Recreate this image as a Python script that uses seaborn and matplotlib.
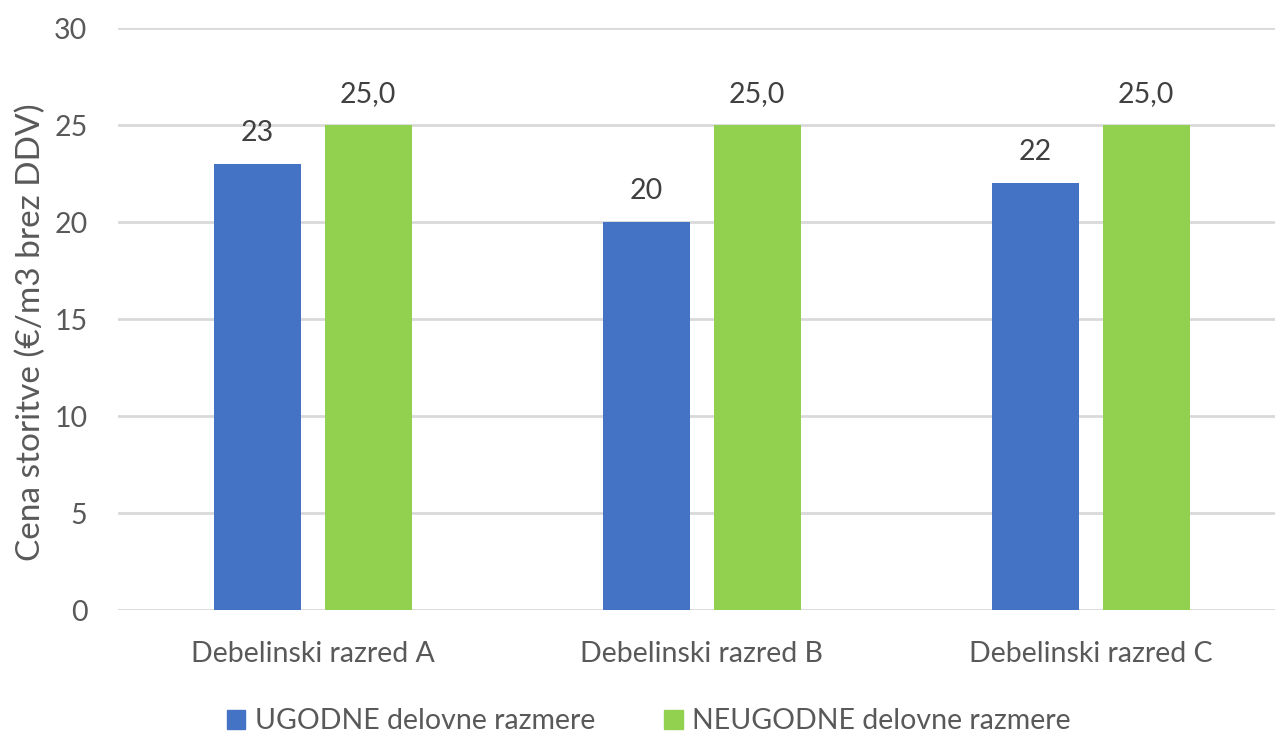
import pandas as pd
import seaborn as sns
import matplotlib.pyplot as plt
from matplotlib.patches import Patch

# data
razredi = ['Debelinski razred A', 'Debelinski razred B', 'Debelinski razred C']
ugodne = [23, 20, 22]
neugodne = [25.0, 25.0, 25.0]
serije = ['UGODNE delovne razmere', 'NEUGODNE delovne razmere']
barve = ['#4472C4', '#92D050']

df = pd.DataFrame({
    'razred': razredi * 2,
    'cena': ugodne + neugodne,
    'serija': [serije[0]] * 3 + [serije[1]] * 3,
})

sns.set_theme(style='white')
plt.rcParams['font.family'] = ['Lato', 'DejaVu Sans']
txt = '#595959'

fig = plt.figure(figsize=(12.75, 7.33), dpi=100)
ax = fig.add_axes([0.0925, 0.1678, 0.9075, 0.794])

sns.barplot(data=df, x='razred', y='cena', hue='serija', palette=barve,
            width=0.568, gap=0.211, ax=ax, legend=False, saturation=1,
            linewidth=0)

# data labels
for cont, fmt in zip(ax.containers, ['{:.0f}', '{:.1f}']):
    labels = [fmt.format(v).replace('.', ',') for v in cont.datavalues]
    ax.bar_label(cont, labels=labels, padding=13, fontsize=20.5, color='#404040')

ax.set_ylim(0, 30)
ax.set_yticks(range(0, 31, 5))
ax.set_xlim(-0.501, 2.473)
ax.yaxis.grid(True, color='#D9D9D9', linewidth=2)
ax.set_axisbelow(True)
for s in ax.spines.values():
    s.set_visible(False)
ax.tick_params(axis='both', length=0, labelsize=20.5, labelcolor=txt)
ax.tick_params(axis='y', pad=22)
ax.tick_params(axis='x', pad=22)
ax.set_xlabel('')
ax.set_ylabel('Cena storitve (€/m3 brez DDV)', fontsize=24, color=txt)
ax.yaxis.set_label_coords(-0.062, 0.478)

handles = [Patch(color=c, label=l) for c, l in zip(barve, serije)]
fig.legend(handles=handles, loc='lower center', bbox_to_anchor=(0.509, -0.037),
           ncol=2, frameon=False, fontsize=20.5, labelcolor=txt,
           handlelength=0.65, handleheight=0.65, handletextpad=0.35, columnspacing=2.4)

fig.savefig('out.png', dpi=100)
